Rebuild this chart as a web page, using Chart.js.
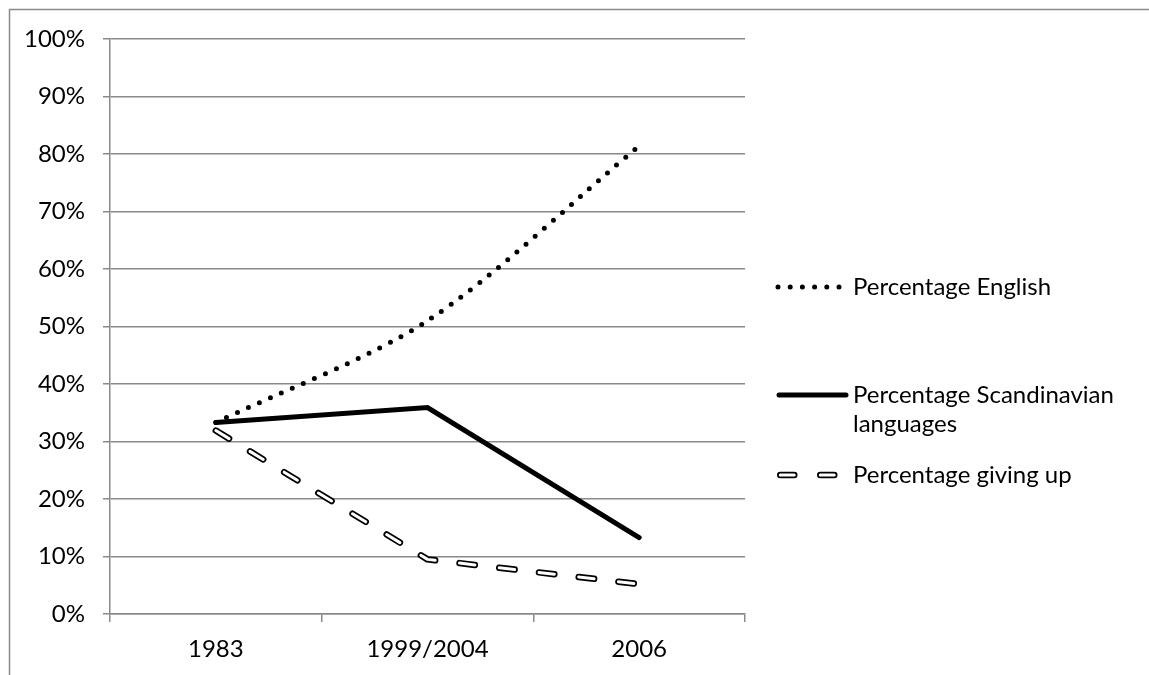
<!DOCTYPE html>
<html>
<head>
<meta charset="utf-8">
<script src="https://cdn.jsdelivr.net/npm/chart.js@4/dist/chart.umd.min.js"></script>
<style>
html, body { margin: 0; padding: 0; background: #ffffff; }
#wrap { width: 1149px; height: 675px; position: relative; }
</style>
</head>
<body>
<div id="wrap"><canvas id="c" width="1149" height="675"></canvas></div>
<script>
const categories = ['1983', '1999/2004', '2006'];
const english = [33.3, 51.0, 81.4];
const scandinavian = [33.3, 35.9, 13.3];
const givingUp = [31.9, 9.5, 5.2];
const yMin = 0, yMax = 100, yStep = 10;
const seriesNames = ['Percentage English', ['Percentage Scandinavian', 'languages'], 'Percentage giving up'];

const FONT = 'Lato, "Open Sans", sans-serif';
const FSIZE = 24;
const GRID = '#8a8a8a';

const framePlugin = {
  id: 'frame',
  beforeDraw(chart) {
    const ctx = chart.ctx;
    ctx.save();
    ctx.fillStyle = '#ffffff';
    ctx.fillRect(0, 0, chart.width, chart.height);
    ctx.strokeStyle = GRID;
    ctx.lineWidth = 1.5;
    ctx.beginPath();
    ctx.moveTo(9.5, chart.height);
    ctx.lineTo(9.5, 9.5);
    ctx.lineTo(chart.width, 9.5);
    ctx.stroke();
    ctx.restore();
  }
};

const legendPlugin = {
  id: 'customLegend',
  afterDraw(chart) {
    const ctx = chart.ctx;
    ctx.save();
    ctx.font = FSIZE + 'px ' + FONT;
    ctx.fillStyle = '#000';
    ctx.textBaseline = 'middle';
    ctx.textAlign = 'left';
    const x0 = 777, x1 = 846, tx = 853;
    const rows = [287, 395, 475];
    // English dotted
    ctx.strokeStyle = '#000';
    ctx.lineCap = 'round';
    ctx.lineWidth = 5;
    ctx.setLineDash([0, 12.2]);
    ctx.beginPath(); ctx.moveTo(x0 + 1, rows[0]); ctx.lineTo(840, rows[0]); ctx.stroke();
    // Scandinavian solid
    ctx.setLineDash([]);
    ctx.lineWidth = 5;
    ctx.beginPath(); ctx.moveTo(x0 + 2, rows[1]); ctx.lineTo(x1, rows[1]); ctx.stroke();
    // Giving up outlined dashes
    ctx.lineWidth = 6.5;
    ctx.setLineDash([14, 26]);
    ctx.beginPath(); ctx.moveTo(780.25, rows[2]); ctx.lineTo(840, rows[2]); ctx.stroke();
    ctx.strokeStyle = '#fff';
    ctx.lineWidth = 3;
    ctx.beginPath(); ctx.moveTo(780.25, rows[2]); ctx.lineTo(840, rows[2]); ctx.stroke();
    ctx.setLineDash([]);
    // texts
    ctx.fillStyle = '#000';
    ctx.fillText(seriesNames[0], tx, rows[0]);
    ctx.fillText(seriesNames[1][0], tx, rows[1]);
    ctx.fillText(seriesNames[1][1], tx, rows[1] + 29);
    ctx.fillText(seriesNames[2], tx, rows[2]);
    ctx.restore();
  }
};

new Chart(document.getElementById('c'), {
  type: 'line',
  data: {
    labels: categories,
    datasets: [
      {
        label: seriesNames[0],
        data: english,
        borderColor: '#000',
        borderWidth: 5,
        borderDash: [0, 12],
        borderCapStyle: 'round',
        tension: 0.3,
        pointRadius: 0,
        fill: false,
        order: 1
      },
      {
        label: seriesNames[1].join(' '),
        data: scandinavian,
        borderColor: '#000',
        borderWidth: 5,
        borderCapStyle: 'round',
        borderJoinStyle: 'miter',
        tension: 0,
        pointRadius: 0,
        fill: false,
        order: 2
      },
      {
        label: seriesNames[2],
        data: givingUp,
        borderColor: '#000',
        borderWidth: 6.5,
        borderDash: [15.5, 24.5],
        borderCapStyle: 'round',
        borderJoinStyle: 'round',
        tension: 0,
        pointRadius: 0,
        fill: false,
        order: 3
      },
      {
        label: '_inner',
        data: givingUp,
        borderColor: '#fff',
        borderWidth: 3,
        borderDash: [15.5, 24.5],
        borderCapStyle: 'round',
        borderJoinStyle: 'round',
        tension: 0,
        pointRadius: 0,
        fill: false,
        order: -1
      }
    ]
  },
  options: {
    responsive: false,
    animation: false,
    devicePixelRatio: 1,
    layout: { padding: { left: 0, top: 39, right: 404, bottom: 0 } },
    plugins: {
      legend: { display: false },
      tooltip: { enabled: false },
      title: { display: false }
    },
    scales: {
      x: {
        type: 'category',
        offset: true,
        afterFit(scale) { scale.height = 61; },
        grid: {
          offset: true,
          drawOnChartArea: false,
          drawTicks: true,
          tickLength: 8,
          color: GRID,
          lineWidth: 1.5
        },
        border: { display: true, color: GRID, width: 1.5 },
        ticks: {
          color: '#000',
          font: { family: FONT, size: FSIZE },
          padding: 13,
          maxRotation: 0
        }
      },
      y: {
        min: yMin,
        max: yMax,
        afterFit(scale) { scale.width = 110; },
        grid: {
          color: GRID,
          lineWidth: 1.5,
          drawTicks: true,
          tickLength: 7
        },
        border: { display: true, color: GRID, width: 1.5 },
        ticks: {
          stepSize: yStep,
          color: '#000',
          font: { family: FONT, size: FSIZE },
          padding: 18,
          callback: v => v + '%'
        }
      }
    }
  },
  plugins: [framePlugin, legendPlugin]
});
</script>
</body>
</html>
